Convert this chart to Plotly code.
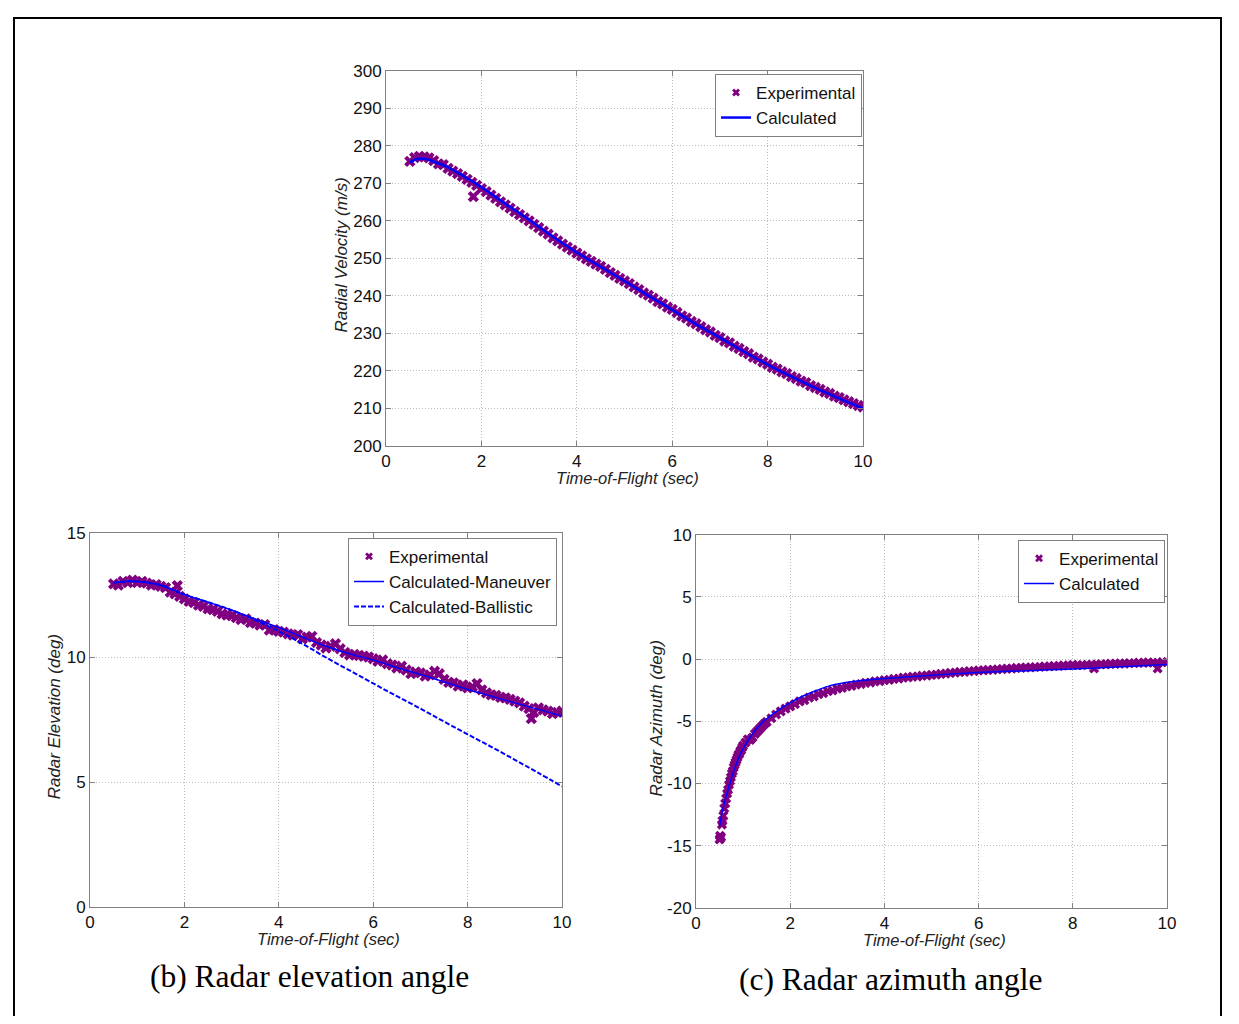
import plotly.graph_objects as go

# ---------------- data ----------------
t_exp = [0.5, 0.6, 0.7, 0.8, 0.9, 1.0, 1.1, 1.2, 1.3, 1.4, 1.5, 1.6, 1.7, 1.8, 1.9,
         2.0, 2.1, 2.2, 2.3, 2.4, 2.5, 2.6, 2.7, 2.8, 2.9, 3.0, 3.1, 3.2, 3.3, 3.4,
         3.5, 3.6, 3.7, 3.8, 3.9, 4.0, 4.1, 4.2, 4.3, 4.4, 4.5, 4.6, 4.7, 4.8, 4.9,
         5.0, 5.1, 5.2, 5.3, 5.4, 5.5, 5.6, 5.7, 5.8, 5.9, 6.0, 6.1, 6.2, 6.3, 6.4,
         6.5, 6.6, 6.7, 6.8, 6.9, 7.0, 7.1, 7.2, 7.3, 7.4, 7.5, 7.6, 7.7, 7.8, 7.9,
         8.0, 8.1, 8.2, 8.3, 8.4, 8.5, 8.6, 8.7, 8.8, 8.9, 9.0, 9.1, 9.2, 9.3, 9.4,
         9.5, 9.6, 9.7, 9.8, 9.9, 10.0]

# (a) radial velocity
rv_exp = [275.9, 276.9, 277.2, 277.1, 276.8, 276.1, 275.2, 275.0, 274.0, 273.3,
          272.6, 271.9, 271.1, 270.3, 269.5, 268.6, 267.8, 266.9, 266.0, 265.1,
          264.3, 263.4, 262.5, 261.7, 260.8, 260.0, 259.1, 258.2, 257.3, 256.5,
          255.5, 254.7, 253.8, 253.0, 252.2, 251.4, 250.7, 249.9, 249.2, 248.5,
          247.9, 247.1, 246.2, 245.5, 244.7, 244.0, 243.3, 242.4, 241.7, 240.8,
          240.2, 239.4, 238.5, 237.9, 237.0, 236.4, 235.6, 234.7, 234.1, 233.2,
          232.6, 231.8, 231.0, 230.4, 229.5, 228.9, 228.0, 227.5, 226.6, 226.0,
          225.2, 224.6, 223.7, 223.2, 222.4, 221.8, 221.0, 220.5, 219.8, 219.3,
          218.5, 218.0, 217.3, 216.9, 216.1, 215.6, 215.1, 214.4, 214.0, 213.3,
          212.9, 212.3, 211.8, 211.3, 210.8, 210.4]
t_rv_outlier = [1.83]
rv_outlier = [266.5]
t_rv_calc = [0.5, 0.6, 0.7, 0.8, 0.9, 1.0, 1.25, 1.5, 1.75, 2.0, 2.5, 3.0, 3.5, 4.0,
             4.5, 5.0, 5.5, 6.0, 6.5, 7.0, 7.5, 8.0, 8.5, 9.0, 9.5, 10.0]
rv_calc = [275.6, 276.3, 276.6, 276.6, 276.3, 275.8, 274.6, 272.9, 271.0, 269.0,
           264.6, 260.3, 255.8, 251.6, 247.8, 244.0, 240.1, 236.3, 232.5, 228.9,
           225.2, 221.7, 218.5, 215.5, 212.7, 210.0]

# (b) radar elevation
el_exp = [12.95, 12.9, 13.05, 13.0, 13.1, 13.0, 13.05, 12.98, 12.9, 12.92,
          12.85, 12.8, 12.62, 12.55, 12.45, 12.35, 12.25, 12.2, 12.1, 12.05,
          11.95, 11.92, 11.85, 11.75, 11.7, 11.68, 11.6, 11.52, 11.55, 11.4,
          11.38, 11.3, 11.32, 11.1, 11.12, 11.05, 11.02, 10.95, 10.9, 10.92,
          10.75, 10.82, 10.85, 10.6, 10.5, 10.38, 10.45, 10.55, 10.35, 10.2,
          10.1, 10.12, 10.08, 10.05, 10.02, 9.95, 9.85, 9.9, 9.75, 9.7,
          9.58, 9.65, 9.5, 9.35, 9.42, 9.38, 9.25, 9.3, 9.45, 9.35,
          9.12, 9.0, 8.98, 8.85, 8.9, 8.78, 8.82, 8.95, 8.7, 8.58,
          8.5, 8.48, 8.4, 8.38, 8.32, 8.25, 8.18, 8.05, 7.95, 7.8,
          7.98, 7.9, 7.85, 7.75, 7.8, 7.85]
t_el_outlier = [1.85, 9.35]
el_outlier = [12.88, 7.55]
t_el_calc = [0.5, 0.75, 1.0, 1.25, 1.5, 1.75, 2.0, 2.5, 3.0, 3.5, 4.0, 4.5, 5.0,
             5.5, 6.0, 6.5, 7.0, 7.5, 8.0, 8.5, 9.0, 9.5, 10.0]
el_maneuver = [13.0, 13.05, 13.05, 13.0, 12.9, 12.72, 12.52, 12.22, 11.9, 11.55,
               11.2, 10.82, 10.45, 10.15, 9.9, 9.6, 9.32, 9.02, 8.72, 8.45, 8.18,
               7.92, 7.65]
el_ballistic = [13.0, 13.05, 13.05, 13.0, 12.9, 12.72, 12.52, 12.22, 11.9, 11.5,
                11.05, 10.55, 10.0, 9.48, 8.96, 8.45, 7.95, 7.43, 6.92, 6.42, 5.9,
                5.37, 4.83]

# (c) radar azimuth
t_az_exp = [0.5, 0.51, 0.52, 0.53, 0.55, 0.56, 0.58, 0.6, 0.62, 0.64, 0.66, 0.68,
            0.7, 0.72, 0.74, 0.76, 0.78, 0.8, 0.82, 0.84, 0.86, 0.88, 0.9, 0.92,
            0.94, 0.96, 0.98, 1.0, 1.05, 1.1, 1.15, 1.2, 1.25, 1.3, 1.35, 1.4,
            1.45, 1.5, 1.6, 1.7, 1.8, 1.9, 2.0, 2.1, 2.2, 2.3, 2.4, 2.5, 2.6, 2.7,
            2.8, 2.9, 3.0, 3.1, 3.2, 3.3, 3.4, 3.5, 3.6, 3.7, 3.8, 3.9, 4.0, 4.1,
            4.2, 4.3, 4.4, 4.5, 4.6, 4.7, 4.8, 4.9, 5.0, 5.1, 5.2, 5.3, 5.4, 5.5,
            5.6, 5.7, 5.8, 5.9, 6.0, 6.1, 6.2, 6.3, 6.4, 6.5, 6.6, 6.7, 6.8, 6.9,
            7.0, 7.1, 7.2, 7.3, 7.4, 7.5, 7.6, 7.7, 7.8, 7.9, 8.0, 8.1, 8.2, 8.3,
            8.4, 8.5, 8.6, 8.7, 8.8, 8.9, 9.0, 9.1, 9.2, 9.3, 9.4, 9.5, 9.6, 9.7,
            9.8, 9.9, 10.0]
az_exp = [-14.5, -14.2, -14.4, -14.3, -13.3, -13.0, -12.6, -12.0, -11.6, -11.2,
          -10.8, -10.5, -10.1, -9.8, -9.5, -9.2, -9.0, -8.7, -8.5, -8.3, -8.1,
          -7.9, -7.7, -7.6, -7.4, -7.3, -7.1, -6.95, -6.7, -6.45, -6.5, -6.3,
          -6.0, -5.8, -5.6, -5.4, -5.2, -5.05, -4.75, -4.45, -4.2, -3.98, -3.8,
          -3.62, -3.4, -3.3, -3.1, -3.0, -2.82, -2.74, -2.58, -2.52, -2.38, -2.32,
          -2.2, -2.16, -2.04, -2.0, -1.9, -1.88, -1.78, -1.77, -1.68, -1.67,
          -1.58, -1.57, -1.48, -1.47, -1.4, -1.4, -1.33, -1.32, -1.26, -1.25,
          -1.18, -1.17, -1.1, -1.09, -1.03, -1.02, -0.96, -0.96, -0.9, -0.9,
          -0.86, -0.86, -0.81, -0.8, -0.76, -0.76, -0.7, -0.71, -0.66, -0.67,
          -0.63, -0.63, -0.58, -0.59, -0.54, -0.55, -0.5, -0.51, -0.46, -0.48,
          -0.48, -0.45, -0.43, -0.44, -0.4, -0.42, -0.36, -0.38, -0.34, -0.36,
          -0.32, -0.33, -0.28, -0.3, -0.26, -0.29, -0.3, -0.24, -0.25]
t_az_outlier = [8.45, 9.8]
az_outlier = [-0.75, -0.75]
t_az_calc = [0.5, 0.55, 0.6, 0.7, 0.8, 0.9, 1.0, 1.2, 1.4, 1.6, 1.8, 2.0, 2.25,
             2.5, 2.75, 3.0, 3.5, 4.0, 4.5, 5.0, 5.5, 6.0, 6.5, 7.0, 7.5, 8.0,
             8.5, 9.0, 9.5, 10.0]
az_calc = [-13.4, -12.4, -11.6, -10.2, -9.0, -8.0, -7.2, -6.0, -5.1, -4.5, -3.95,
           -3.5, -3.0, -2.6, -2.25, -2.0, -1.72, -1.55, -1.42, -1.3, -1.18,
           -1.08, -1.0, -0.93, -0.86, -0.8, -0.72, -0.62, -0.52, -0.42]

x_ticks = [0, 2, 4, 6, 8, 10]
rv_ticks = [200, 210, 220, 230, 240, 250, 260, 270, 280, 290, 300]
el_ticks = [0, 5, 10, 15]
az_ticks = [-20, -15, -10, -5, 0, 5, 10]
az_tick_labels = ["-20", "-15", "-10", "-5", "0", "5", "10"]

# ---------------- figure ----------------
# page body has an 8px margin, so the figure is 16px smaller than the window
OFF = 8
W, H = 1239 - 2 * OFF, 1024 - 2 * OFF
# observed mapping of page pixels to the returned picture
SX, BX = 0.9885, 4.1
SY, BY = 0.9835, 8.1

PURPLE = "#800080"
BLUE = "#0000FF"
SANS = "Liberation Sans, Arial, sans-serif"
SERIF = "Liberation Serif, Times New Roman, serif"


def px_x(p):
    return ((p - BX) / SX - OFF) / W


def px_y(p):
    return 1 - ((p - BY) / SY - OFF) / H


fig = go.Figure()


def mk(size):
    return dict(symbol="x", size=size, color=PURPLE, line=dict(width=0))


def legend_marker(name, legend):
    # entry carrying the small legend symbol; the data trace itself is unlisted
    return go.Scatter(x=[None], y=[None], mode="markers", marker=mk(7), name=name,
                      legend=legend, hoverinfo="skip")


# panel (a)
fig.add_trace(go.Scatter(x=t_exp + t_rv_outlier, y=rv_exp + rv_outlier, mode="markers",
                         marker=mk(10), name="Experimental", xaxis="x", yaxis="y",
                         showlegend=False))
fig.add_trace(legend_marker("Experimental", "legend"))
fig.add_trace(go.Scatter(x=t_rv_calc, y=rv_calc, mode="lines", line_shape="spline",
                         line=dict(color=BLUE, width=2.5), name="Calculated",
                         xaxis="x", yaxis="y", legend="legend"))
# panel (b)
fig.add_trace(go.Scatter(x=t_exp + t_el_outlier, y=el_exp + el_outlier, mode="markers",
                         marker=mk(10), name="Experimental", xaxis="x2", yaxis="y2",
                         showlegend=False))
fig.add_trace(legend_marker("Experimental", "legend2"))
fig.add_trace(go.Scatter(x=t_el_calc, y=el_maneuver, mode="lines", line_shape="spline",
                         line=dict(color=BLUE, width=1.5), name="Calculated-Maneuver",
                         xaxis="x2", yaxis="y2", legend="legend2"))
fig.add_trace(go.Scatter(x=t_el_calc, y=el_ballistic, mode="lines", line_shape="spline",
                         line=dict(color=BLUE, width=2, dash="5px,2px"),
                         name="Calculated-Ballistic", xaxis="x2", yaxis="y2",
                         legend="legend2"))
# panel (c)
fig.add_trace(go.Scatter(x=t_az_exp + t_az_outlier, y=az_exp + az_outlier, mode="markers",
                         marker=mk(9), name="Experimental", xaxis="x3", yaxis="y3",
                         showlegend=False))
fig.add_trace(legend_marker("Experimental", "legend3"))
fig.add_trace(go.Scatter(x=t_az_calc, y=az_calc, mode="lines", line_shape="spline",
                         line=dict(color=BLUE, width=1.5), name="Calculated",
                         xaxis="x3", yaxis="y3", legend="legend3"))

axis_common = dict(showline=True, linecolor="#808080", linewidth=1, mirror="ticks",
                   ticks="inside", ticklen=5, tickcolor="#808080", showgrid=True,
                   gridcolor="#bdbdbd", gridwidth=1, griddash="1px,2px", zeroline=False,
                   tickfont=dict(family=SANS, size=17, color="#111111"))

legend_common = dict(xanchor="right", yanchor="top", bgcolor="white",
                     bordercolor="#808080", borderwidth=1, tracegroupgap=0,
                     itemsizing="trace",
                     font=dict(family=SANS, size=17, color="#111111"))

fig.update_layout(
    width=W, height=H, margin=dict(l=0, r=0, t=0, b=0),
    paper_bgcolor="white", plot_bgcolor="white", showlegend=True,
    xaxis=dict(domain=[px_x(385), px_x(862)], range=[0, 10], tickvals=x_ticks,
               anchor="y", **axis_common),
    yaxis=dict(domain=[px_y(446), px_y(70)], range=[200, 300], tickvals=rv_ticks,
               anchor="x", **axis_common),
    xaxis2=dict(domain=[px_x(89), px_x(561)], range=[0, 10], tickvals=x_ticks,
                anchor="y2", **axis_common),
    yaxis2=dict(domain=[px_y(908), px_y(533)], range=[0, 15], tickvals=el_ticks,
                anchor="x2", **axis_common),
    xaxis3=dict(domain=[px_x(695), px_x(1166)], range=[0, 10], tickvals=x_ticks,
                anchor="y3", **axis_common),
    yaxis3=dict(domain=[px_y(909), px_y(535)], range=[-20, 10], tickvals=az_ticks,
                ticktext=az_tick_labels, anchor="x3", **axis_common),
    legend=dict(x=px_x(861), y=px_y(73), **legend_common),
    legend2=dict(x=px_x(556), y=px_y(538), **legend_common),
    legend3=dict(x=px_x(1164), y=px_y(540), **legend_common),
)

xt_font = dict(family=SANS, size=16.5, color="#222222")
yt_font = dict(family=SANS, size=17, color="#222222")
ann = [
    dict(text="<i>Time-of-Flight (sec)</i>", x=px_x(626), y=px_y(478), font=xt_font),
    dict(text="<i>Radial Velocity (m/s)</i>", x=px_x(340), y=px_y(255), textangle=-90,
         font=yt_font),
    dict(text="<i>Time-of-Flight (sec)</i>", x=px_x(327), y=px_y(940), font=xt_font),
    dict(text="<i>Radar Elevation (deg)</i>", x=px_x(53), y=px_y(717), textangle=-90,
         font=yt_font),
    dict(text="<i>Time-of-Flight (sec)</i>", x=px_x(933), y=px_y(941), font=xt_font),
    dict(text="<i>Radar Azimuth (deg)</i>", x=px_x(655), y=px_y(719), textangle=-90,
         font=yt_font),
]
for a in ann:
    fig.add_annotation(xref="paper", yref="paper", showarrow=False,
                       xanchor="center", yanchor="middle", **a)

cap_font = dict(family=SERIF, size=31.5, color="black")
fig.add_annotation(text="(b) Radar elevation angle", xref="paper", yref="paper",
                   x=px_x(308), y=px_y(978), showarrow=False, xanchor="center",
                   yanchor="middle", font=cap_font)
fig.add_annotation(text="(c) Radar azimuth angle", xref="paper", yref="paper",
                   x=px_x(889), y=px_y(981), showarrow=False, xanchor="center",
                   yanchor="middle", font=cap_font)

# outer frame (as close to the page edge as the figure area allows)
fig.add_shape(type="rect", xref="paper", yref="paper", x0=1 / W, x1=1 - 1 / W,
              y0=-0.02, y1=1 - 1 / H, line=dict(color="black", width=2),
              fillcolor="rgba(0,0,0,0)", layer="below")

fig.write_html("out.html")
